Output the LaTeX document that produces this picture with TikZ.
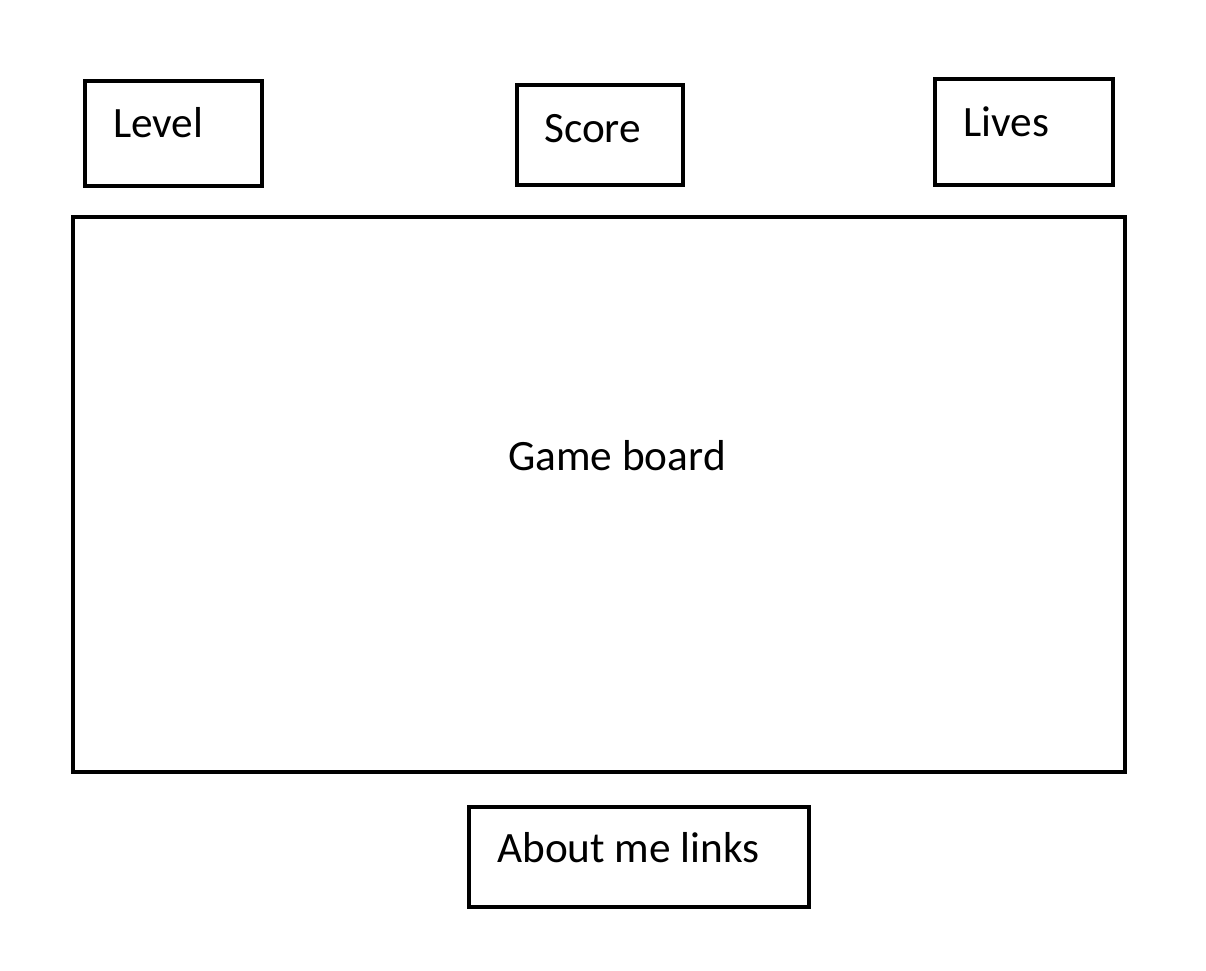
\documentclass[tikz,border=0pt]{standalone}
\usepackage{fontspec}
\setmainfont{Carlito}
\begin{document}
\begin{tikzpicture}[x=1pt,y=-1pt,
  box/.style={draw=black, line width=3.8pt, rectangle, inner sep=0pt},
  txt/.style={anchor=base west, inner sep=0pt, font=\fontsize{43.3}{50}\selectfont}]
  \useasboundingbox (0,0) rectangle (1206,970);
  % panels
  \node[box, minimum width=177pt, minimum height=105pt] (levelbox) at (173.5,133.5) {};
  \node[box, minimum width=166pt, minimum height=100pt] (scorebox) at (600,135) {};
  \node[box, minimum width=178pt, minimum height=106pt] (livesbox) at (1024,132) {};
  \node[box, minimum width=1052pt, minimum height=555pt] (board) at (599,494.5) {};
  \node[box, minimum width=340pt, minimum height=100pt] (aboutbox) at (639,857) {};
  % captions
  \node[txt] (level) at (113,137) {Level};
  \node[txt] (score) at (544,142) {Score};
  \node[txt] (lives) at (963,136) {Lives};
  \node[txt] (game) at (508,470) {Game board};
  \node[txt] (about) at (497,862) {About me links};
\end{tikzpicture}
\end{document}
